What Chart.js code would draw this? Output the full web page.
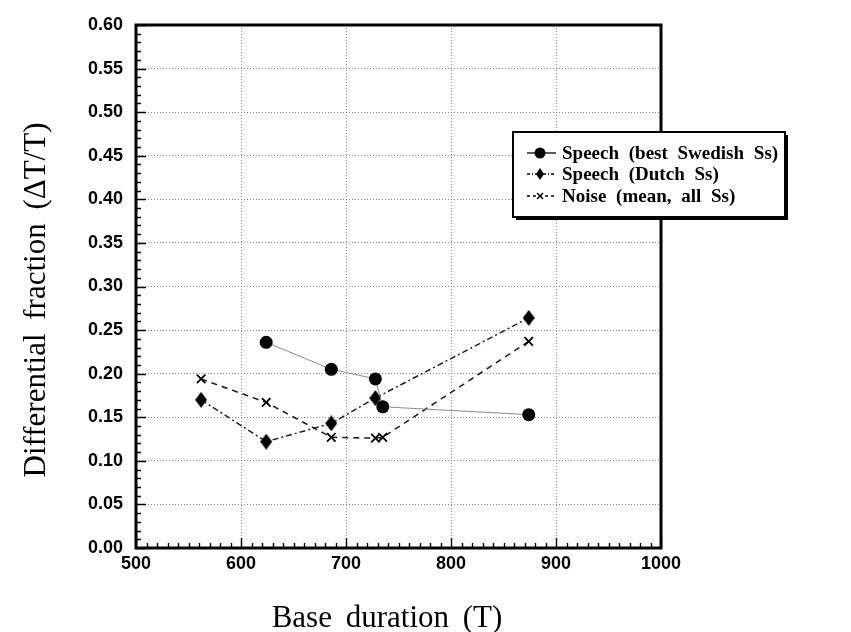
<!DOCTYPE html>
<html>
<head>
<meta charset="utf-8">
<script src="https://cdn.jsdelivr.net/npm/chart.js@4.4.0/dist/chart.umd.min.js"></script>
<style>
  html, body { margin: 0; padding: 0; background: #fff; }
</style>
</head>
<body>
<canvas id="chart" width="851" height="632"></canvas>
<script>
// series: base duration (T) vs differential fraction
const seriesNames = ['Speech (best Swedish Ss)', 'Speech (Dutch Ss)', 'Noise (mean, all Ss)'];

const swedishX = [624, 686, 728, 735, 874];
const swedishY = [0.236, 0.205, 0.194, 0.162, 0.153];

const dutchX = [562, 624, 686, 728, 874];
const dutchY = [0.170, 0.122, 0.143, 0.172, 0.264];

const noiseX = [562, 624, 686, 728, 735, 874];
const noiseY = [0.194, 0.167, 0.127, 0.126, 0.127, 0.237];

const xTicks = [500, 600, 700, 800, 900, 1000];
const yTicks = [0.00, 0.05, 0.10, 0.15, 0.20, 0.25, 0.30, 0.35, 0.40, 0.45, 0.50, 0.55, 0.60];

const xTitle = 'Base duration (T)';
const yTitle = 'Differential fraction (ΔT/T)';

const pts = (xs, ys) => xs.map((v, i) => ({ x: v, y: ys[i] }));

// tall diamond marker
function diamond(w, h) {
  const c = document.createElement('canvas');
  c.width = w; c.height = h;
  const g = c.getContext('2d');
  g.fillStyle = '#000';
  g.beginPath();
  g.moveTo(w / 2, 0); g.lineTo(w, h / 2); g.lineTo(w / 2, h); g.lineTo(0, h / 2);
  g.closePath();
  g.fill();
  return c;
}

const dashDot = [6, 3, 2, 3];
const dashed = [6, 5];

// frame, inward ticks, legend box and axis titles
const decor = {
  id: 'decor',
  afterDatasetsDraw(chart) {
    const { ctx, chartArea: a, scales: { x, y } } = chart;
    ctx.save();
    ctx.strokeStyle = '#000';
    ctx.lineWidth = 1.4;
    ctx.beginPath();
    for (let v = x.min; v <= x.max + 0.001; v += 10) {
      const px = Math.round(x.getPixelForValue(v)) + 0.5;
      const len = (Math.round(v) % 100 === 0) ? 10 : 5;
      ctx.moveTo(px, a.bottom); ctx.lineTo(px, a.bottom - len);
    }
    for (let i = 0; i <= 60; i++) {
      const v = i / 100;
      const py = Math.round(y.getPixelForValue(v)) + 0.5;
      const len = (i % 5 === 0) ? 10 : 5;
      ctx.moveTo(a.left, py); ctx.lineTo(a.left + len, py);
    }
    ctx.stroke();
    ctx.lineWidth = 3;
    ctx.strokeRect(a.left, a.top, a.right - a.left, a.bottom - a.top);
    ctx.restore();
  },
  afterDraw(chart) {
    const { ctx } = chart;
    ctx.save();

    // legend
    const bx = 513, by = 132, bw = 272, bh = 85;
    ctx.fillStyle = '#000';
    ctx.fillRect(bx + 3, by + 3, bw, bh);
    ctx.fillStyle = '#fff';
    ctx.fillRect(bx, by, bw, bh);
    ctx.strokeStyle = '#000';
    ctx.lineWidth = 2;
    ctx.strokeRect(bx, by, bw, bh);

    const rows = [153, 174, 196];
    const styles = [
      { dash: [], mark: 'circle' },
      { dash: [3, 2, 1, 2], mark: 'diamond' },
      { dash: [3, 3], mark: 'cross' }
    ];
    ctx.font = 'bold 19px "Liberation Serif"';
    ctx.wordSpacing = '5px';
    ctx.textBaseline = 'middle';
    rows.forEach((ry, i) => {
      const s = styles[i];
      ctx.strokeStyle = '#000';
      ctx.lineWidth = 1.3;
      ctx.setLineDash(s.dash);
      ctx.beginPath(); ctx.moveTo(527, ry); ctx.lineTo(556, ry); ctx.stroke();
      ctx.setLineDash([]);
      ctx.fillStyle = '#000';
      if (s.mark === 'circle') {
        ctx.beginPath(); ctx.arc(540, ry, 5.5, 0, Math.PI * 2); ctx.fill();
      } else if (s.mark === 'diamond') {
        ctx.beginPath();
        ctx.moveTo(540, ry - 6); ctx.lineTo(544, ry); ctx.lineTo(540, ry + 6); ctx.lineTo(536, ry);
        ctx.closePath(); ctx.fill();
      } else {
        ctx.lineWidth = 1.5;
        ctx.beginPath();
        ctx.moveTo(537, ry - 3); ctx.lineTo(543, ry + 3);
        ctx.moveTo(543, ry - 3); ctx.lineTo(537, ry + 3);
        ctx.stroke();
      }
      ctx.fillText(seriesNames[i], 562, ry + 1);
    });

    // axis titles
    ctx.fillStyle = '#000';
    ctx.font = '31px "Liberation Serif"';
    ctx.wordSpacing = '6px';
    ctx.textAlign = 'center';
    ctx.textBaseline = 'alphabetic';
    ctx.fillText(xTitle, 387, 627);
    ctx.translate(45, 300);
    ctx.rotate(-Math.PI / 2);
    ctx.fillText(yTitle, 0, 0);
    ctx.restore();
  }
};

const tickFont = { family: '"Liberation Sans", Arial, sans-serif', size: 18, weight: 'bold' };

new Chart(document.getElementById('chart'), {
  type: 'scatter',
  data: {
    datasets: [
      {
        label: seriesNames[0],
        data: pts(swedishX, swedishY),
        showLine: true,
        borderColor: '#8c8c8c',
        borderWidth: 1,
        pointStyle: 'circle',
        pointRadius: 6.5,
        pointBackgroundColor: '#000',
        pointBorderColor: '#000',
        pointBorderWidth: 0
      },
      {
        label: seriesNames[1],
        data: pts(dutchX, dutchY),
        showLine: true,
        borderColor: '#222',
        borderWidth: 1.5,
        borderDash: dashDot,
        pointStyle: diamond(12, 16),
        pointRadius: 7
      },
      {
        label: seriesNames[2],
        data: pts(noiseX, noiseY),
        showLine: true,
        borderColor: '#222',
        borderWidth: 1.6,
        borderDash: dashed,
        pointStyle: 'crossRot',
        pointRadius: 6,
        pointBorderColor: '#000',
        pointBorderWidth: 1.8
      }
    ]
  },
  options: {
    responsive: false,
    animation: false,
    layout: { padding: { top: 25, right: 190, left: 0, bottom: 0 } },
    plugins: {
      legend: { display: false },
      tooltip: { enabled: false }
    },
    scales: {
      x: {
        type: 'linear',
        min: xTicks[0],
        max: xTicks[xTicks.length - 1],
        afterBuildTicks: s => { s.ticks = xTicks.map(v => ({ value: v })); },
        afterFit: s => { s.height = 84; },
        ticks: { font: tickFont, color: '#000', padding: 5, maxRotation: 0, callback: v => String(v) },
        grid: { color: '#8f8f8f', lineWidth: 1, drawTicks: false },
        border: { display: false, dash: [1, 2] }
      },
      y: {
        type: 'linear',
        min: yTicks[0],
        max: yTicks[yTicks.length - 1],
        afterBuildTicks: s => { s.ticks = yTicks.map(v => ({ value: v })); },
        afterFit: s => { s.width = 136; },
        ticks: { font: tickFont, color: '#000', padding: 13, callback: v => v.toFixed(2) },
        grid: { color: '#8f8f8f', lineWidth: 1, drawTicks: false },
        border: { display: false, dash: [1, 2] }
      }
    }
  },
  plugins: [decor]
});
</script>
</body>
</html>
